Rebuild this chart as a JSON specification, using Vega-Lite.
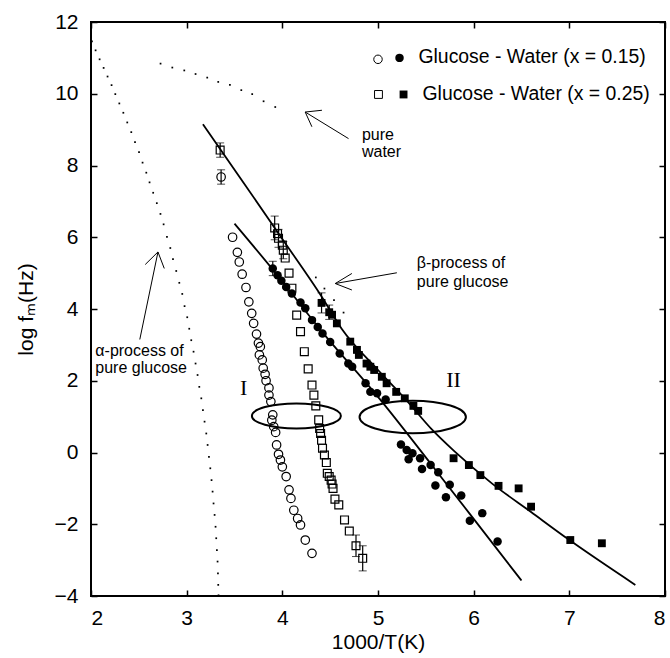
{
  "$schema": "https://vega.github.io/schema/vega-lite/v6.json",
  "width": 574,
  "height": 574,
  "autosize": {"type": "none"},
  "padding": {"left": 91, "top": 22, "right": 5, "bottom": 62},
  "background": "white",
  "config": {
    "view": {"stroke": "black", "strokeWidth": 2},
    "font": "Liberation Sans",
    "axis": {
      "grid": false,
      "domain": false,
      "tickColor": "black",
      "tickWidth": 1.5,
      "tickSize": -6,
      "labelColor": "black",
      "labelFont": "Liberation Sans",
      "labelFontSize": 21,
      "titleColor": "black",
      "titleFont": "Liberation Sans",
      "titleFontSize": 21,
      "titleFontWeight": "normal"
    }
  },
  "resolve": {"axis": {"x": "independent", "y": "independent"}},
  "datasets": {
    "pts": [
      {"x": 3.36, "y": 7.68, "c": "0.15", "p": "a"},
      {"x": 3.48, "y": 6.00, "c": "0.15", "p": "a"},
      {"x": 3.53, "y": 5.58, "c": "0.15", "p": "a"},
      {"x": 3.55, "y": 5.31, "c": "0.15", "p": "a"},
      {"x": 3.58, "y": 4.97, "c": "0.15", "p": "a"},
      {"x": 3.62, "y": 4.60, "c": "0.15", "p": "a"},
      {"x": 3.65, "y": 4.20, "c": "0.15", "p": "a"},
      {"x": 3.68, "y": 3.88, "c": "0.15", "p": "a"},
      {"x": 3.70, "y": 3.60, "c": "0.15", "p": "a"},
      {"x": 3.73, "y": 3.30, "c": "0.15", "p": "a"},
      {"x": 3.75, "y": 3.05, "c": "0.15", "p": "a"},
      {"x": 3.77, "y": 2.95, "c": "0.15", "p": "a"},
      {"x": 3.76, "y": 2.72, "c": "0.15", "p": "a"},
      {"x": 3.79, "y": 2.58, "c": "0.15", "p": "a"},
      {"x": 3.80, "y": 2.35, "c": "0.15", "p": "a"},
      {"x": 3.82, "y": 2.18, "c": "0.15", "p": "a"},
      {"x": 3.83, "y": 2.00, "c": "0.15", "p": "a"},
      {"x": 3.86, "y": 1.80, "c": "0.15", "p": "a"},
      {"x": 3.86, "y": 1.60, "c": "0.15", "p": "a"},
      {"x": 3.88, "y": 1.42, "c": "0.15", "p": "a"},
      {"x": 3.90, "y": 1.05, "c": "0.15", "p": "a"},
      {"x": 3.89, "y": 0.90, "c": "0.15", "p": "a"},
      {"x": 3.91, "y": 0.72, "c": "0.15", "p": "a"},
      {"x": 3.93, "y": 0.56, "c": "0.15", "p": "a"},
      {"x": 3.94, "y": 0.21, "c": "0.15", "p": "a"},
      {"x": 3.96, "y": -0.05, "c": "0.15", "p": "a"},
      {"x": 3.98, "y": -0.21, "c": "0.15", "p": "a"},
      {"x": 4.00, "y": -0.40, "c": "0.15", "p": "a"},
      {"x": 4.04, "y": -0.67, "c": "0.15", "p": "a"},
      {"x": 4.07, "y": -1.04, "c": "0.15", "p": "a"},
      {"x": 4.09, "y": -1.28, "c": "0.15", "p": "a"},
      {"x": 4.12, "y": -1.61, "c": "0.15", "p": "a"},
      {"x": 4.16, "y": -1.84, "c": "0.15", "p": "a"},
      {"x": 4.19, "y": -2.02, "c": "0.15", "p": "a"},
      {"x": 4.24, "y": -2.44, "c": "0.15", "p": "a"},
      {"x": 4.31, "y": -2.81, "c": "0.15", "p": "a"},
      {"x": 3.35, "y": 8.43, "c": "0.25", "p": "a"},
      {"x": 3.92, "y": 6.26, "c": "0.25", "p": "a"},
      {"x": 3.95, "y": 6.10, "c": "0.25", "p": "a"},
      {"x": 3.96, "y": 5.97, "c": "0.25", "p": "a"},
      {"x": 4.00, "y": 5.78, "c": "0.25", "p": "a"},
      {"x": 4.01, "y": 5.64, "c": "0.25", "p": "a"},
      {"x": 4.03, "y": 5.42, "c": "0.25", "p": "a"},
      {"x": 4.07, "y": 5.00, "c": "0.25", "p": "a"},
      {"x": 4.10, "y": 4.58, "c": "0.25", "p": "a"},
      {"x": 4.15, "y": 3.83, "c": "0.25", "p": "a"},
      {"x": 4.19, "y": 3.37, "c": "0.25", "p": "a"},
      {"x": 4.23, "y": 2.81, "c": "0.25", "p": "a"},
      {"x": 4.27, "y": 2.33, "c": "0.25", "p": "a"},
      {"x": 4.31, "y": 1.88, "c": "0.25", "p": "a"},
      {"x": 4.33, "y": 1.60, "c": "0.25", "p": "a"},
      {"x": 4.35, "y": 1.30, "c": "0.25", "p": "a"},
      {"x": 4.38, "y": 0.91, "c": "0.25", "p": "a"},
      {"x": 4.39, "y": 0.67, "c": "0.25", "p": "a"},
      {"x": 4.40, "y": 0.53, "c": "0.25", "p": "a"},
      {"x": 4.41, "y": 0.34, "c": "0.25", "p": "a"},
      {"x": 4.42, "y": 0.12, "c": "0.25", "p": "a"},
      {"x": 4.44, "y": -0.07, "c": "0.25", "p": "a"},
      {"x": 4.46, "y": -0.28, "c": "0.25", "p": "a"},
      {"x": 4.47, "y": -0.58, "c": "0.25", "p": "a"},
      {"x": 4.49, "y": -0.67, "c": "0.25", "p": "a"},
      {"x": 4.51, "y": -0.77, "c": "0.25", "p": "a"},
      {"x": 4.52, "y": -0.88, "c": "0.25", "p": "a"},
      {"x": 4.53, "y": -1.00, "c": "0.25", "p": "a"},
      {"x": 4.55, "y": -1.30, "c": "0.25", "p": "a"},
      {"x": 4.59, "y": -1.46, "c": "0.25", "p": "a"},
      {"x": 4.65, "y": -1.88, "c": "0.25", "p": "a"},
      {"x": 4.70, "y": -2.19, "c": "0.25", "p": "a"},
      {"x": 4.77, "y": -2.60, "c": "0.25", "p": "a"},
      {"x": 4.84, "y": -2.95, "c": "0.25", "p": "a"},
      {"x": 3.90, "y": 5.13, "c": "0.15", "p": "b"},
      {"x": 3.95, "y": 4.94, "c": "0.15", "p": "b"},
      {"x": 3.99, "y": 4.79, "c": "0.15", "p": "b"},
      {"x": 4.04, "y": 4.61, "c": "0.15", "p": "b"},
      {"x": 4.10, "y": 4.43, "c": "0.15", "p": "b"},
      {"x": 4.19, "y": 4.18, "c": "0.15", "p": "b"},
      {"x": 4.24, "y": 4.02, "c": "0.15", "p": "b"},
      {"x": 4.31, "y": 3.69, "c": "0.15", "p": "b"},
      {"x": 4.37, "y": 3.50, "c": "0.15", "p": "b"},
      {"x": 4.42, "y": 3.32, "c": "0.15", "p": "b"},
      {"x": 4.50, "y": 3.08, "c": "0.15", "p": "b"},
      {"x": 4.60, "y": 2.76, "c": "0.15", "p": "b"},
      {"x": 4.69, "y": 2.48, "c": "0.15", "p": "b"},
      {"x": 4.73, "y": 2.39, "c": "0.15", "p": "b"},
      {"x": 4.87, "y": 1.93, "c": "0.15", "p": "b"},
      {"x": 4.92, "y": 1.69, "c": "0.15", "p": "b"},
      {"x": 4.99, "y": 1.65, "c": "0.15", "p": "b"},
      {"x": 5.08, "y": 1.48, "c": "0.15", "p": "b"},
      {"x": 5.24, "y": 0.22, "c": "0.15", "p": "b"},
      {"x": 5.30, "y": 0.07, "c": "0.15", "p": "b"},
      {"x": 5.36, "y": -0.02, "c": "0.15", "p": "b"},
      {"x": 5.32, "y": -0.19, "c": "0.15", "p": "b"},
      {"x": 5.44, "y": -0.16, "c": "0.15", "p": "b"},
      {"x": 5.46, "y": -0.46, "c": "0.15", "p": "b"},
      {"x": 5.55, "y": -0.35, "c": "0.15", "p": "b"},
      {"x": 5.63, "y": -0.55, "c": "0.15", "p": "b"},
      {"x": 5.60, "y": -0.92, "c": "0.15", "p": "b"},
      {"x": 5.75, "y": -0.90, "c": "0.15", "p": "b"},
      {"x": 5.71, "y": -1.25, "c": "0.15", "p": "b"},
      {"x": 5.87, "y": -1.20, "c": "0.15", "p": "b"},
      {"x": 6.09, "y": -1.69, "c": "0.15", "p": "b"},
      {"x": 5.96, "y": -1.90, "c": "0.15", "p": "b"},
      {"x": 6.25, "y": -2.48, "c": "0.15", "p": "b"},
      {"x": 4.41, "y": 4.17, "c": "0.25", "p": "b"},
      {"x": 4.49, "y": 3.91, "c": "0.25", "p": "b"},
      {"x": 4.52, "y": 3.84, "c": "0.25", "p": "b"},
      {"x": 4.57, "y": 3.60, "c": "0.25", "p": "b"},
      {"x": 4.71, "y": 3.09, "c": "0.25", "p": "b"},
      {"x": 4.78, "y": 2.86, "c": "0.25", "p": "b"},
      {"x": 4.80, "y": 2.72, "c": "0.25", "p": "b"},
      {"x": 4.88, "y": 2.48, "c": "0.25", "p": "b"},
      {"x": 4.92, "y": 2.39, "c": "0.25", "p": "b"},
      {"x": 4.96, "y": 2.30, "c": "0.25", "p": "b"},
      {"x": 5.04, "y": 2.11, "c": "0.25", "p": "b"},
      {"x": 5.09, "y": 1.93, "c": "0.25", "p": "b"},
      {"x": 5.19, "y": 1.69, "c": "0.25", "p": "b"},
      {"x": 5.28, "y": 1.51, "c": "0.25", "p": "b"},
      {"x": 5.37, "y": 1.30, "c": "0.25", "p": "b"},
      {"x": 5.42, "y": 1.16, "c": "0.25", "p": "b"},
      {"x": 5.79, "y": -0.16, "c": "0.25", "p": "b"},
      {"x": 5.95, "y": -0.35, "c": "0.25", "p": "b"},
      {"x": 6.07, "y": -0.63, "c": "0.25", "p": "b"},
      {"x": 6.26, "y": -0.93, "c": "0.25", "p": "b"},
      {"x": 6.47, "y": -1.00, "c": "0.25", "p": "b"},
      {"x": 6.60, "y": -1.51, "c": "0.25", "p": "b"},
      {"x": 7.01, "y": -2.44, "c": "0.25", "p": "b"},
      {"x": 7.34, "y": -2.53, "c": "0.25", "p": "b"}
    ],
    "err": [
      {"x": 3.36, "y": 7.48, "y2": 7.88},
      {"x": 3.35, "y": 8.23, "y2": 8.63},
      {"x": 3.92, "y": 5.93, "y2": 6.59},
      {"x": 3.96, "y": 5.72, "y2": 6.22},
      {"x": 4.01, "y": 5.40, "y2": 5.88},
      {"x": 3.90, "y": 4.93, "y2": 5.33},
      {"x": 4.41, "y": 3.89, "y2": 4.45},
      {"x": 4.49, "y": 3.71, "y2": 4.11},
      {"x": 4.77, "y": -2.90, "y2": -2.30},
      {"x": 4.84, "y": -3.30, "y2": -2.60}
    ],
    "fits": [
      {"x": 3.17, "y": 9.15, "f": "A"},
      {"x": 3.60, "y": 7.50, "f": "A"},
      {"x": 4.00, "y": 5.95, "f": "A"},
      {"x": 4.41, "y": 4.35, "f": "A"},
      {"x": 4.62, "y": 3.45, "f": "A"},
      {"x": 5.00, "y": 2.30, "f": "A"},
      {"x": 5.28, "y": 1.51, "f": "A"},
      {"x": 5.56, "y": 0.65, "f": "A"},
      {"x": 5.80, "y": 0.03, "f": "A"},
      {"x": 6.19, "y": -0.86, "f": "A"},
      {"x": 6.60, "y": -1.66, "f": "A"},
      {"x": 6.99, "y": -2.42, "f": "A"},
      {"x": 7.69, "y": -3.69, "f": "A"},
      {"x": 3.50, "y": 6.38, "f": "B"},
      {"x": 3.90, "y": 5.10, "f": "B"},
      {"x": 4.42, "y": 3.35, "f": "B"},
      {"x": 5.00, "y": 1.55, "f": "B"},
      {"x": 5.60, "y": -0.48, "f": "B"},
      {"x": 6.00, "y": -1.85, "f": "B"},
      {"x": 6.50, "y": -3.57, "f": "B"}
    ],
    "dots": [
      {"x": 2.010, "y": 11.46}, {"x": 2.048, "y": 11.21}, {"x": 2.090, "y": 10.96},
      {"x": 2.132, "y": 10.72}, {"x": 2.173, "y": 10.48}, {"x": 2.215, "y": 10.24},
      {"x": 2.254, "y": 9.99}, {"x": 2.296, "y": 9.73}, {"x": 2.338, "y": 9.47},
      {"x": 2.379, "y": 9.20}, {"x": 2.421, "y": 8.93}, {"x": 2.460, "y": 8.65},
      {"x": 2.502, "y": 8.37}, {"x": 2.539, "y": 8.08}, {"x": 2.578, "y": 7.80},
      {"x": 2.612, "y": 7.53}, {"x": 2.650, "y": 7.24}, {"x": 2.688, "y": 6.95},
      {"x": 2.726, "y": 6.65}, {"x": 2.759, "y": 6.36}, {"x": 2.794, "y": 6.01},
      {"x": 2.829, "y": 5.70}, {"x": 2.857, "y": 5.39}, {"x": 2.891, "y": 5.06},
      {"x": 2.923, "y": 4.73}, {"x": 2.954, "y": 4.42}, {"x": 2.978, "y": 4.08},
      {"x": 3.006, "y": 3.77}, {"x": 3.027, "y": 3.45}, {"x": 3.048, "y": 3.13},
      {"x": 3.072, "y": 2.81}, {"x": 3.093, "y": 2.48}, {"x": 3.114, "y": 2.16},
      {"x": 3.132, "y": 1.83}, {"x": 3.153, "y": 1.51}, {"x": 3.170, "y": 1.18},
      {"x": 3.187, "y": 0.86}, {"x": 3.205, "y": 0.53}, {"x": 3.219, "y": 0.21},
      {"x": 3.233, "y": -0.12}, {"x": 3.247, "y": -0.44}, {"x": 3.260, "y": -0.77},
      {"x": 3.271, "y": -1.09}, {"x": 3.281, "y": -1.42}, {"x": 3.292, "y": -1.74},
      {"x": 3.302, "y": -2.07}, {"x": 3.309, "y": -2.39}, {"x": 3.316, "y": -2.72},
      {"x": 3.323, "y": -3.04}, {"x": 3.327, "y": -3.37}, {"x": 3.330, "y": -3.69},
      {"x": 3.333, "y": -3.98},
      {"x": 2.727, "y": 10.84}, {"x": 2.850, "y": 10.73}, {"x": 2.975, "y": 10.65},
      {"x": 3.093, "y": 10.55}, {"x": 3.215, "y": 10.45}, {"x": 3.330, "y": 10.33},
      {"x": 3.452, "y": 10.25}, {"x": 3.571, "y": 10.10}, {"x": 3.685, "y": 9.99},
      {"x": 3.804, "y": 9.79}, {"x": 3.926, "y": 9.63},
      {"x": 4.35, "y": 4.88}, {"x": 4.44, "y": 4.57}, {"x": 4.54, "y": 4.25}, {"x": 4.64, "y": 3.90}
    ],
    "arrows": [
      {"x": 4.692, "y": 8.75, "x2": 4.239, "y2": 9.49},
      {"x": 4.239, "y": 9.49, "x2": 4.414, "y2": 9.54},
      {"x": 4.239, "y": 9.49, "x2": 4.309, "y2": 9.08},
      {"x": 5.197, "y": 5.01, "x2": 4.553, "y2": 4.71},
      {"x": 4.553, "y": 4.71, "x2": 4.727, "y2": 4.99},
      {"x": 4.553, "y": 4.71, "x2": 4.727, "y2": 4.53},
      {"x": 2.51, "y": 3.15, "x2": 2.700, "y2": 5.59},
      {"x": 2.700, "y": 5.59, "x2": 2.567, "y2": 5.24},
      {"x": 2.700, "y": 5.59, "x2": 2.766, "y2": 5.13}
    ],
    "notes": [
      {"x": 2.045, "y": 2.69, "t": "α-process of"},
      {"x": 2.045, "y": 2.21, "t": "pure glucose"},
      {"x": 4.832, "y": 8.70, "t": "pure"},
      {"x": 4.832, "y": 8.24, "t": "water"},
      {"x": 5.406, "y": 5.14, "t": "β-process of"},
      {"x": 5.406, "y": 4.61, "t": "pure glucose"}
    ],
    "roman": [
      {"x": 3.595, "y": 1.60, "t": "I"},
      {"x": 5.789, "y": 1.83, "t": "II"}
    ],
    "legtext": [
      {"x": 5.423, "y": 10.86, "t": "Glucose - Water (x = 0.15)"},
      {"x": 5.465, "y": 9.82, "t": "Glucose - Water (x = 0.25)"}
    ],
    "legsym": [
      {"x": 5.00, "y": 10.96, "c": "0.15", "p": "a"},
      {"x": 5.225, "y": 11.00, "c": "0.15", "p": "b"},
      {"x": 5.005, "y": 9.98, "c": "0.25", "p": "a"},
      {"x": 5.267, "y": 9.98, "c": "0.25", "p": "b"}
    ],
    "ell1": [{"x": 4.147, "y": 1.02}],
    "ell2": [{"x": 5.363, "y": 0.99}]
  },
  "encoding": {
    "x": {"field": "x", "type": "quantitative", "scale": {"domain": [2, 8], "nice": false, "zero": false}, "axis": null},
    "y": {"field": "y", "type": "quantitative", "scale": {"domain": [-4, 12], "nice": false, "zero": false}, "axis": null}
  },
  "layer": [
    {
      "data": {"name": "dots"},
      "mark": {"type": "point", "shape": "square", "filled": true, "color": "black", "size": 3, "opacity": 1},
      "encoding": {
        "x": {"field": "x", "type": "quantitative", "scale": {"domain": [2, 8], "nice": false, "zero": false},
          "axis": {"orient": "bottom", "values": [2, 3, 4, 5, 6, 7, 8], "title": "1000/T(K)", "labelPadding": 17, "titlePadding": 3}},
        "y": {"field": "y", "type": "quantitative", "scale": {"domain": [-4, 12], "nice": false, "zero": false},
          "axis": {"orient": "left", "values": [-4, -2, 0, 2, 4, 6, 8, 10, 12], "title": "log fₘ(Hz)", "labelPadding": 19, "titlePadding": 18}}
      }
    },
    {
      "data": {"name": "fits"},
      "mark": {"type": "line", "color": "black", "strokeWidth": 1.8, "interpolate": "monotone"},
      "encoding": {
        "detail": {"field": "f"},
        "x": {"field": "x", "type": "quantitative", "scale": {"domain": [2, 8], "nice": false, "zero": false},
          "axis": {"orient": "top", "values": [2, 3, 4, 5, 6, 7, 8], "labels": false, "title": null}},
        "y": {"field": "y", "type": "quantitative", "scale": {"domain": [-4, 12], "nice": false, "zero": false},
          "axis": {"orient": "right", "values": [-4, -2, 0, 2, 4, 6, 8, 10, 12], "labels": false, "title": null}}
      }
    },
    {
      "data": {"name": "err"},
      "mark": {"type": "errorbar", "ticks": {"size": 8, "color": "black", "strokeWidth": 1.2}, "rule": {"color": "black", "strokeWidth": 1.2}},
      "encoding": {"y2": {"field": "y2"}}
    },
    {
      "data": {"name": "pts"},
      "transform": [{"filter": "datum.p == 'a'"}],
      "mark": {"type": "point", "filled": false, "color": "black", "strokeWidth": 1.2, "opacity": 1},
      "encoding": {
        "shape": {"field": "c", "type": "nominal", "scale": {"domain": ["0.15", "0.25"], "range": ["circle", "square"]}, "legend": null},
        "size": {"field": "c", "type": "nominal", "scale": {"domain": ["0.15", "0.25"], "range": [72, 62]}, "legend": null}
      }
    },
    {
      "data": {"name": "pts"},
      "transform": [{"filter": "datum.p == 'b'"}],
      "mark": {"type": "point", "filled": true, "color": "black", "opacity": 1},
      "encoding": {
        "shape": {"field": "c", "type": "nominal", "scale": {"domain": ["0.15", "0.25"], "range": ["circle", "square"]}, "legend": null},
        "size": {"field": "c", "type": "nominal", "scale": {"domain": ["0.15", "0.25"], "range": [88, 68]}, "legend": null}
      }
    },
    {
      "data": {"name": "ell1"},
      "mark": {"type": "point", "filled": false, "color": "black", "strokeWidth": 2, "opacity": 1, "size": 7921,
        "shape": "M -1 0 A 1 0.281 0 1 0 1 0 A 1 0.281 0 1 0 -1 0 Z"}
    },
    {
      "data": {"name": "ell2"},
      "mark": {"type": "point", "filled": false, "color": "black", "strokeWidth": 2, "opacity": 1, "size": 11321,
        "shape": "M -1 0 A 1 0.306 0 1 0 1 0 A 1 0.306 0 1 0 -1 0 Z"}
    },
    {
      "data": {"name": "arrows"},
      "mark": {"type": "rule", "color": "black", "strokeWidth": 1},
      "encoding": {"x2": {"field": "x2"}, "y2": {"field": "y2"}}
    },
    {
      "data": {"name": "notes"},
      "mark": {"type": "text", "align": "left", "baseline": "alphabetic", "fontSize": 16, "font": "Liberation Sans", "color": "black"},
      "encoding": {"text": {"field": "t"}}
    },
    {
      "data": {"name": "roman"},
      "mark": {"type": "text", "align": "center", "baseline": "alphabetic", "fontSize": 22, "font": "Liberation Serif", "color": "black"},
      "encoding": {"text": {"field": "t"}}
    },
    {
      "data": {"name": "legtext"},
      "mark": {"type": "text", "align": "left", "baseline": "alphabetic", "fontSize": 19.4, "font": "Liberation Sans", "color": "black"},
      "encoding": {"text": {"field": "t"}}
    },
    {
      "data": {"name": "legsym"},
      "transform": [{"filter": "datum.p == 'a'"}],
      "mark": {"type": "point", "filled": false, "color": "black", "strokeWidth": 1, "opacity": 1},
      "encoding": {
        "shape": {"field": "c", "type": "nominal", "scale": {"domain": ["0.15", "0.25"], "range": ["circle", "square"]}, "legend": null},
        "size": {"field": "c", "type": "nominal", "scale": {"domain": ["0.15", "0.25"], "range": [72, 62]}, "legend": null}
      }
    },
    {
      "data": {"name": "legsym"},
      "transform": [{"filter": "datum.p == 'b'"}],
      "mark": {"type": "point", "filled": true, "color": "black", "opacity": 1},
      "encoding": {
        "shape": {"field": "c", "type": "nominal", "scale": {"domain": ["0.15", "0.25"], "range": ["circle", "square"]}, "legend": null},
        "size": {"field": "c", "type": "nominal", "scale": {"domain": ["0.15", "0.25"], "range": [88, 68]}, "legend": null}
      }
    }
  ]
}
